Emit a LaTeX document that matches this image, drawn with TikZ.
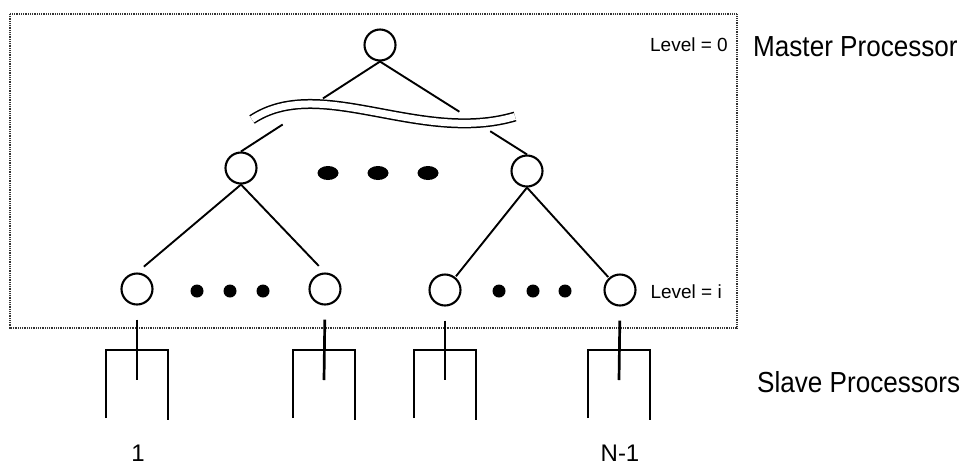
\documentclass[tikz,border=0pt]{standalone}
\usepackage{fontspec}
\setmainfont{Liberation Sans}
\usetikzlibrary{shapes.geometric,calc}
\begin{document}
\begin{tikzpicture}[x=1pt,y=-1pt,
  proc/.style={circle,draw,line width=2.1pt,minimum size=31pt,inner sep=0pt},
  edge/.style={line width=1.9pt},
  bigdot/.style={ellipse,fill,minimum width=21pt,minimum height=14pt,inner sep=0pt},
  smalldot/.style={circle,fill,minimum size=13pt,inner sep=0pt},
  slavebox/.style={line width=2.7pt},
  frame/.style={line width=1.5pt,draw=black!80,dash pattern=on 1pt off 0.8pt},
  wave/.style={line width=1.5pt,double distance=7pt},
  lvl/.style={font=\fontsize{19}{19}\selectfont,inner sep=0pt},
  side/.style={font=\fontsize{29}{29}\selectfont,inner sep=0pt,xscale=0.9,transform shape},
  num/.style={font=\fontsize{24}{24}\selectfont,inner sep=0pt}]
\useasboundingbox (0,0) rectangle (965,467);

% master processor frame
\draw[frame] (10,14) rectangle (737,328);

% tree nodes
\node[proc] (t) at (380,45) {};
\node[proc] (m1) at (241,168) {};
\node[proc] (m2) at (527,171) {};
\node[proc] (l1) at (137,289) {};
\node[proc] (l2) at (325,289) {};
\node[proc] (l3) at (445,290) {};
\node[proc] (l4) at (620,290) {};

% ellipsis dots
\node[bigdot] (d1) at (328,173) {};
\node[bigdot] (d2) at (378,173) {};
\node[bigdot] (d3) at (428,173) {};
\node[smalldot] (e1) at (197,291) {};
\node[smalldot] (e2) at (230,291) {};
\node[smalldot] (e3) at (263,291) {};
\node[smalldot] (f1) at (499,291) {};
\node[smalldot] (f2) at (533,291) {};
\node[smalldot] (f3) at (565,291) {};

% root edges, broken by the wavy double line
\path (t.south) -- (m1.north) coordinate[pos=0.41] (a1) coordinate[pos=0.70] (b1);
\path (t.south) -- (m2.north) coordinate[pos=0.54] (a2) coordinate[pos=0.75] (b2);
\draw[edge] (t.south) -- (a1);
\draw[edge] (b1) -- (m1.north);
\draw[edge] (t.south) -- (a2);
\draw[edge] (b2) -- (m2.north);
\draw[wave] (252,119.5) .. controls (320,74.5) and (420,144.5) .. (515,116.5);

% lower edges
\draw[edge,shorten >=9pt] (m1.south) -- (l1.north);
\draw[edge,shorten >=9pt] (m1.south) -- (l2.north);
\draw[edge,shorten >=1pt] (m2.south) -- (l3);
\draw[edge,shorten >=1pt] (m2.south) -- (l4);

% slave processors
\foreach \i/\x in {1/137,2/324,3/445,4/619}{
  \coordinate (s\i) at (\x,350);
}
\foreach \i in {1,2,3,4}{
  \draw[slavebox,shorten <=14pt] (l\i.south) -- ($(s\i)+(0,30)$);
  \draw[slavebox] ($(s\i)+(-31,68)$) |- ($(s\i)+(31,0)$) -- ++(0,70);
}

% labels
\node[lvl,anchor=east] (lv0) at (728,45) {Level = 0};
\node[lvl,anchor=east] (lvi) at (722,292) {Level = i};
\node[side,anchor=west] (mp) at (753,47) {Master Processor};
\node[side,anchor=west] (sp) at (757,382) {Slave Processors};
\node[num] (n1) at (138,453) {1};
\node[num] (nn) at (620,453) {N-1};
\end{tikzpicture}
\end{document}
